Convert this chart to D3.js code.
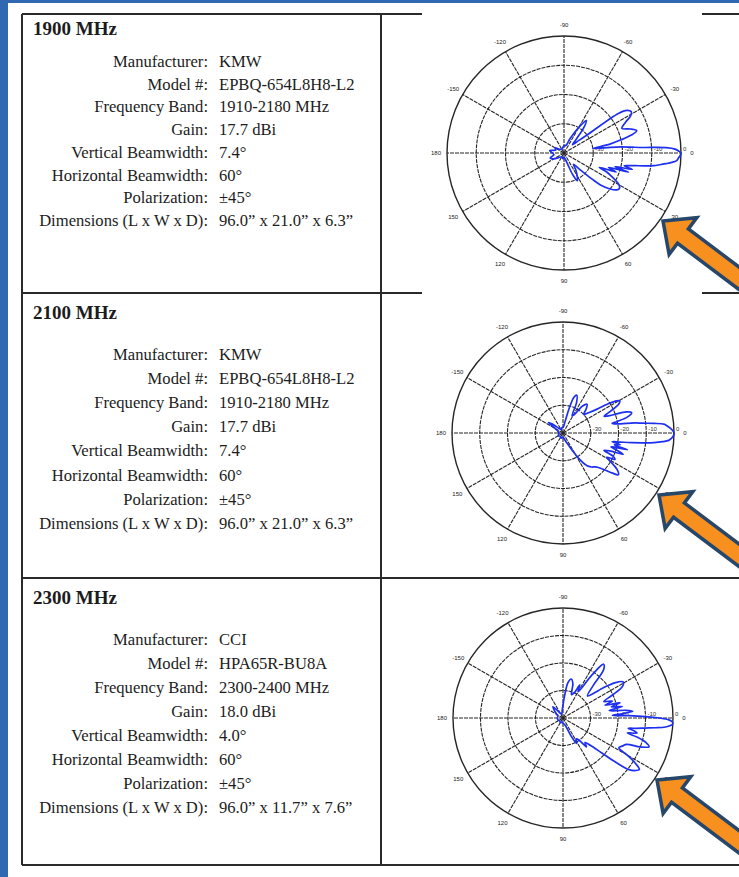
<!DOCTYPE html>
<html><head><meta charset="utf-8">
<script src="https://cdn.jsdelivr.net/npm/d3@7"></script>
<style>body{margin:0;background:#3069b2;} svg{display:block}</style>
</head><body>
<svg id="c" width="739" height="877"></svg>
<script>
// ---------- data ----------
const bands = ["1900 MHz", "2100 MHz", "2300 MHz"];
const fieldLabels = ["Manufacturer:", "Model #:", "Frequency Band:", "Gain:", "Vertical Beamwidth:", "Horizontal Beamwidth:", "Polarization:", "Dimensions (L x W x D):"];
const specs1900 = ["KMW", "EPBQ-654L8H8-L2", "1910-2180 MHz", "17.7 dBi", "7.4°", "60°", "±45°", "96.0” x 21.0” x 6.3”"];
const specs2100 = ["KMW", "EPBQ-654L8H8-L2", "1910-2180 MHz", "17.7 dBi", "7.4°", "60°", "±45°", "96.0” x 21.0” x 6.3”"];
const specs2300 = ["CCI", "HPA65R-BU8A", "2300-2400 MHz", "18.0 dBi", "4.0°", "60°", "±45°", "96.0” x 11.7” x 7.6”"];
const angleTicks = [-150, -120, -90, -60, -30, 0, 30, 60, 90, 120, 150, 180];
const ringTicks = [-30, -20, -10, 0];
const dbDomain = [-40, 0];

const angles1 = [-180,-170,-160,-150,-140,-120,-100,-90,-80,-72,-68,-64,-59,-55.5,-52,-48,-44,-40,-38,-36,-34,-31.5,-29,-26.5,-23,-20,-17,-15,-13,-11,-9,-8,-7,-6,-5,-4,-3,-2,-1,0,1,2,3,4,5,6,7,8,9,10,11,12,13.5,15,16.5,18,20,22,24,26,28,30.5,33,35,38,41,43,46,50,55,60,64,68,72,80,90,100,120,140,150,160,170];
const gain1 = [-36,-35,-37,-36.5,-38,-38.5,-38,-37.5,-37.5,-37,-35,-33,-29,-26.5,-29,-34,-36,-33,-30,-17,-14,-13,-14,-16.5,-18.5,-16,-14,-16,-20,-24,-30,-28,-24,-20,-17,-13,-5,-2,-0.8,0,-0.2,-0.6,-1,-1.5,-3,-5,-7,-9,-12,-15,-17.5,-19,-16,-22,-17,-24,-21,-27,-24,-22,-20,-18,-17.5,-18,-20,-23,-27,-32,-35,-33,-31,-29.5,-32,-36,-38,-38.5,-38,-38.5,-37.5,-36,-35,-36.5];

const angles2 = [-180,-160,-148,-144,-140,-135,-120,-100,-90,-80,-76,-73,-70,-66,-62,-58,-54,-50,-46,-42,-38,-35,-33,-31,-29.5,-28,-26,-24,-22,-20,-18.5,-16.5,-14,-12,-11,-10,-9,-8,-7,-6,-5,-4,-2.5,-1,0.5,2,3,4,5,6,7,8,9,10,11.5,13,14.5,16,17.5,19.5,21,23,25,27,29,31,34,37,39,42,46,50,54,58,62,68,80,90,110,130,150,170];
const gain2 = [-38.5,-38,-36,-33.5,-35,-37,-38.5,-38,-38,-36,-31,-26.5,-25.5,-28,-33,-32,-28,-26.5,-28,-30,-28,-25,-21,-17.5,-16.5,-17,-19,-22,-24,-21,-16,-14.2,-16,-20,-22,-21,-19,-14,-11,-7,-3.5,-2.5,-1.2,-0.3,0,-0.4,-1,-1.8,-4,-7,-11,-15,-19,-22,-19,-21,-16,-22,-20,-17,-22,-24,-20,-19,-22,-20,-16.5,-15,-17,-20.5,-23,-24,-25.5,-29,-33,-36,-38,-38.5,-38,-38.5,-38,-38.5];

const angles3 = [-180,-160,-140,-132,-125,-110,-95,-86,-82,-78,-74,-70,-66,-63,-60,-56,-53,-50,-47,-42,-37,-34,-31,-28,-25,-22,-19,-17,-15,-13,-11,-9,-7,-5.5,-4,-3,-2,-1,0,1,2,3,4,5,6,7,8,9,10,11.5,13,14.5,16.5,18.5,20.5,22.5,25,28,30,32,34,36,38,40,42,45,48,51,54,58,62,66,72,85,100,120,140,160];
const gain3 = [-38,-38,-36,-34.5,-37,-38.5,-37,-32,-27,-25.5,-27,-31,-30,-26.5,-29,-21,-15.5,-17,-24,-28,-22,-17,-14.5,-15.5,-20,-24,-21,-24,-18.5,-22,-18,-23,-17,-14.5,-19,-22,-16,-10,-5,-1.5,-0.3,0,-0.8,-2.6,-6,-10,-13,-16,-14,-12.5,-16,-12,-8.5,-7,-10,-15,-16,-17,-13,-9,-6.5,-7.5,-9.5,-15,-21,-26,-28,-26.5,-30,-31,-29.5,-33,-37,-38,-38.5,-38,-38.5,-38];

// ---------- layout ----------
const svg = d3.select("#c");
svg.append("rect").attr("x", 8).attr("y", 3).attr("width", 731).attr("height", 874).attr("fill", "#fff");

const lineCol = "#2a2a2a";
const segs = [
  [22, 14, 422, 14], [702, 14, 739, 14],
  [22, 293, 422, 293], [702, 293, 739, 293],
  [22, 578, 739, 578], [22, 865, 739, 865],
  [22, 14, 22, 865], [381, 14, 381, 865]
];
svg.append("g").selectAll("line").data(segs).join("line")
  .attr("x1", d => d[0]).attr("y1", d => d[1]).attr("x2", d => d[2]).attr("y2", d => d[3])
  .attr("stroke", lineCol).attr("stroke-width", 2);

const rows = [
  {band: bands[0], specs: specs1900, titleY: 35, firstY: 67, step: 22.7},
  {band: bands[1], specs: specs2100, titleY: 319, firstY: 360, step: 24.1},
  {band: bands[2], specs: specs2300, titleY: 604, firstY: 645, step: 24}
];
const serif = "'Liberation Serif','Times New Roman',serif";
rows.forEach(r => {
  const g = svg.append("g").attr("font-family", serif).attr("fill", "#1c1c1c");
  g.append("text").attr("x", 33).attr("y", r.titleY).attr("font-size", 19).attr("font-weight", "bold").text(r.band);
  g.selectAll("text.lab").data(fieldLabels).join("text").attr("class", "lab")
    .attr("x", 208).attr("y", (d, i) => r.firstY + i * r.step).attr("text-anchor", "end")
    .attr("font-size", 16.6).text(d => d);
  g.selectAll("text.val").data(r.specs).join("text").attr("class", "val")
    .attr("x", 219).attr("y", (d, i) => r.firstY + i * r.step)
    .attr("font-size", 16.6).text(d => d);
});

// ---------- polar plots ----------
const plots = [
  {cx: 564, cy: 153, R: 117, a: angles1, g: gain1},
  {cx: 563, cy: 433, R: 111, a: angles2, g: gain2},
  {cx: 563, cy: 718, R: 110, a: angles3, g: gain3}
];
const rad = d => d * Math.PI / 180;
plots.forEach(p => {
  const r = d3.scaleLinear().domain(dbDomain).range([0, p.R]);
  const g = svg.append("g").attr("transform", `translate(${p.cx},${p.cy})`);
  g.selectAll("circle").data(ringTicks).join("circle")
    .attr("r", d => r(d)).attr("fill", "none").attr("stroke", "#262626")
    .attr("stroke-width", d => d === 0 ? 1.4 : 1.1).attr("stroke-dasharray", d => d === 0 ? null : "4,1");
  g.selectAll("line.spoke").data(angleTicks).join("line").attr("class", "spoke")
    .attr("x1", 0).attr("y1", 0)
    .attr("x2", d => r(0) * Math.cos(rad(d))).attr("y2", d => r(0) * Math.sin(rad(d)))
    .attr("stroke", "#262626").attr("stroke-width", 1.1).attr("stroke-dasharray", "4,1");
  g.selectAll("text.ang").data(angleTicks).join("text").attr("class", "ang")
    .attr("x", d => (r(0) + 11) * Math.cos(rad(d)))
    .attr("y", d => (r(0) + 11) * Math.sin(rad(d)) + 2)
    .attr("text-anchor", "middle").attr("font-family", "Liberation Sans, Arial, sans-serif")
    .attr("font-size", 6).attr("fill", "#222").text(d => d);
  g.selectAll("text.ring").data(ringTicks).join("text").attr("class", "ring")
    .attr("x", d => r(d) + 2).attr("y", -2)
    .attr("font-family", "Liberation Sans, Arial, sans-serif")
    .attr("font-size", 6).attr("fill", "#333").text(d => d);
  const pts = p.a.map((ang, i) => [rad(ang + 90), r(p.g[i])]);
  const line = d3.lineRadial().curve(d3.curveCatmullRomClosed.alpha(0.5));
  g.append("path").attr("d", line(pts)).attr("fill", "none")
    .attr("stroke", "#1d2ff0").attr("stroke-width", 1.7).attr("stroke-linejoin", "round");
});

// ---------- arrows ----------
const arrowTips = [[663, 221], [659, 495], [657, 780]];
const arrowShape = [[0,0],[25,-23],[25,-9],[200,-9],[200,9],[25,9],[25,23]];
svg.append("g").selectAll("path").data(arrowTips).join("path")
  .attr("transform", d => `translate(${d[0]},${d[1]}) rotate(37)`)
  .attr("d", "M" + arrowShape.map(p => p.join(",")).join("L") + "Z")
  .attr("fill", "#f7901e").attr("stroke", "#27476a").attr("stroke-width", 3.5)
  .attr("stroke-linejoin", "miter");
</script>
</body></html>
